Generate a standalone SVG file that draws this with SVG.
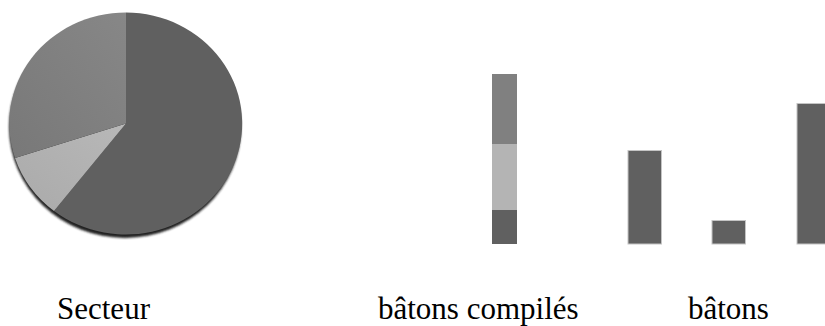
<svg xmlns="http://www.w3.org/2000/svg" width="825" height="326" viewBox="0 0 825 326">
<defs>
<linearGradient id="gMed" x1="0" y1="1" x2="1" y2="0">
<stop offset="0" stop-color="#787878"/>
<stop offset="1" stop-color="#878787"/>
</linearGradient>
<linearGradient id="gLight" x1="0" y1="1" x2="1" y2="0">
<stop offset="0" stop-color="#aaaaaa"/>
<stop offset="1" stop-color="#b8b8b8"/>
</linearGradient>
<filter id="blur" x="-10%" y="-10%" width="120%" height="120%"><feGaussianBlur stdDeviation="0.8"/></filter>
</defs>
<style>
.dark{fill:#606060}
.bar{fill:#606060;stroke:#c4c4c4;stroke-width:1}
.lbl{font-family:Liberation Serif, Tinos, Times New Roman, Times, DejaVu Serif, serif;font-size:31px;fill:#000}
</style>
<rect width="825" height="326" fill="#ffffff"/>
<g id="pie">
<ellipse cx="125" cy="127" rx="116" ry="111" fill="#222" filter="url(#blur)"/>
<path class="dark" d="M126,123.5 L126,12.5 A116.5,111 0 1,1 54,211 Z"/>
<path fill="url(#gLight)" d="M126,123.5 L54,211 A116.5,111 0 0,1 15,158 Z"/>
<path fill="url(#gMed)" d="M126,123.5 L15,158 A116.5,111 0 0,1 126,12.5 Z"/>
</g>
<g id="stacked">
<rect x="492" y="74" width="25" height="70" fill="#808080"/>
<rect x="492" y="144" width="25" height="66" fill="#b4b4b4"/>
<rect x="492" y="210" width="25" height="34" fill="#606060"/>
</g>
<g id="bars">
<rect class="bar" x="628" y="150.5" width="33.5" height="93.5"/>
<rect class="bar" x="712" y="220.5" width="33.5" height="23.5"/>
<rect class="bar" x="797" y="103.5" width="33.5" height="140.5"/>
</g>
<g id="labels">
<text class="lbl" x="57" y="319">Secteur</text>
<text class="lbl" x="378" y="319">bâtons compilés</text>
<text class="lbl" x="688" y="319">bâtons</text>
</g>
</svg>
